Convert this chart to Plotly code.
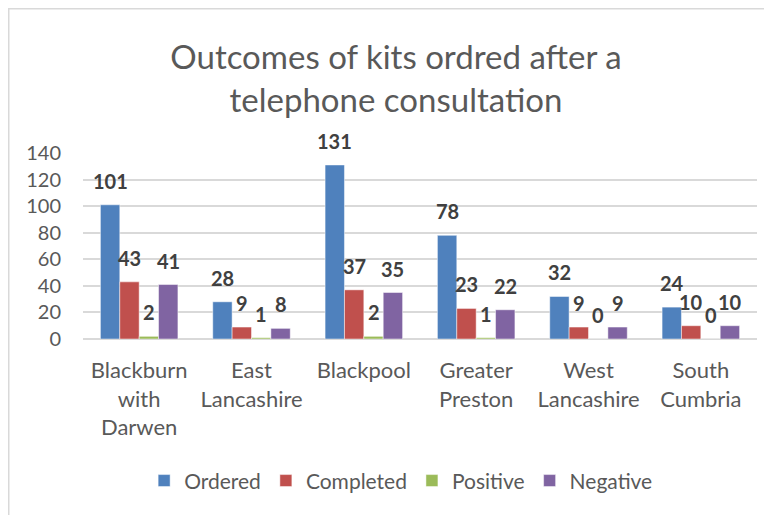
import plotly.graph_objects as go

categories = ["Blackburn<br>with<br>Darwen", "East<br>Lancashire", "Blackpool",
              "Greater<br>Preston", "West<br>Lancashire", "South<br>Cumbria"]
series_names = ["Ordered", "Completed", "Positive", "Negative"]
ordered = [101, 28, 131, 78, 32, 24]
completed = [43, 9, 37, 23, 9, 10]
positive = [2, 1, 2, 1, 0, 0]
negative = [41, 8, 35, 22, 9, 10]
colors = ["#4F81BD", "#C0504D", "#9BBB59", "#8064A2"]

values = [ordered, completed, positive, negative]
FONT = "Lato"
GRAY = "#595959"
bargap = 0.31

L, T, PW, PH = 75, 145, 674, 186

fig = go.Figure()
for name, vals, col in zip(series_names, values, colors):
    fig.add_trace(go.Bar(
        name=name, x=list(range(len(categories))), y=vals,
        marker=dict(color=col, line=dict(color="rgba(255,255,255,0.6)", width=0.8)),
    ))

# data labels above each bar
n = len(series_names)
w = (1 - bargap) / n
annotations = []
for j, vals in enumerate(values):
    off = -(1 - bargap) / 2 + (j + 0.5) * w
    for i, v in enumerate(vals):
        annotations.append(dict(
            x=i + off, y=v, xref="x", yref="y", text=f"<b>{v}</b>",
            showarrow=False, yanchor="middle", yshift=24,
            font=dict(family=FONT, size=20, color="#404040"),
        ))

fig.update_layout(
    width=772, height=515,
    paper_bgcolor="white", plot_bgcolor="white",
    margin=dict(l=L, r=772 - L - PW, t=T, b=515 - T - PH),
    barmode="group", bargap=bargap, bargroupgap=0,
    title=dict(text="Outcomes of kits ordred after a<br>telephone consultation",
               x=388 / 772, xref="container", xanchor="center",
               y=1 - 61 / 515, yref="container", yanchor="middle",
               font=dict(family=FONT, size=33, color=GRAY)),
    font=dict(family=FONT, color=GRAY),
    legend=dict(orientation="h", x=0.472, xanchor="center", y=-0.763, yanchor="middle",
                font=dict(family=FONT, size=21, color=GRAY), traceorder="normal",
                itemclick=False),
    annotations=annotations,
    shapes=[dict(type="rect", xref="paper", yref="paper",
                 x0=(0.75 - L) / PW, x1=(800 - L) / PW,
                 y0=(T + PH - 540) / PH, y1=(T + PH - 0.75) / PH,
                 line=dict(color="#D9D9D9", width=1.5), fillcolor="rgba(0,0,0,0)", layer="below")],
)
fig.update_xaxes(
    tickmode="array", tickvals=list(range(len(categories))), ticktext=categories,
    range=[-0.5, len(categories) - 0.5],
    showgrid=False, showline=False, zeroline=False, ticks="",
    tickfont=dict(family=FONT, size=22, color=GRAY), ticklabelstandoff=16,
)
fig.update_yaxes(
    range=[0, 140], dtick=20, showgrid=True, gridcolor="#D9D9D9", gridwidth=1.5,
    zeroline=True, zerolinecolor="#D9D9D9", zerolinewidth=1.5, showline=False, ticks="",
    tickfont=dict(family=FONT, size=20, color=GRAY), ticklabelstandoff=21,
)

fig.write_html("out.html")
